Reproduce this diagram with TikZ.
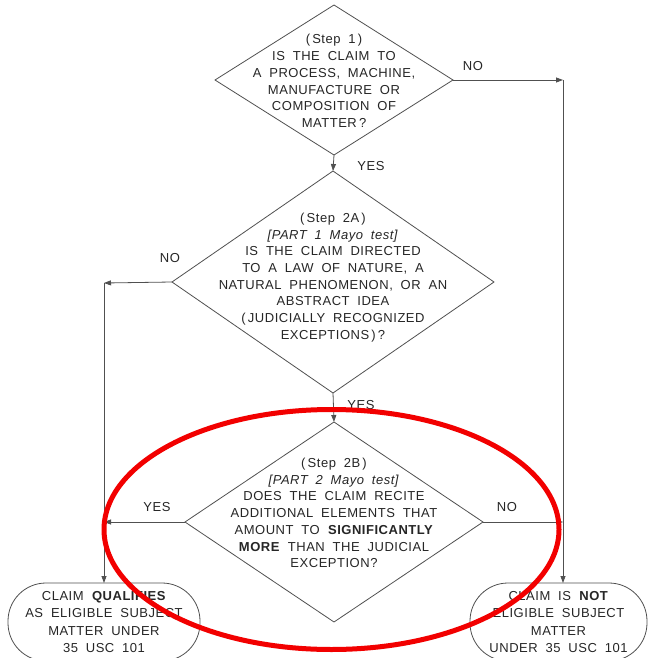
\documentclass[tikz,border=0pt]{standalone}
\usepackage{fontspec}
\setmainfont{Liberation Sans}[WordSpace=1.9, LetterSpace=4]
\usetikzlibrary{shapes.geometric,arrows.meta}
\definecolor{ln}{HTML}{505050}
\definecolor{tx}{HTML}{262626}
\definecolor{redring}{HTML}{F20000}
\begin{document}
\begin{tikzpicture}[x=1pt,y=-1pt,
  dia/.style={draw=ln, line width=0.8pt, diamond, inner sep=0pt, outer sep=0pt},
  qtext/.style={text=tx, align=center, font=\fontsize{13}{16.7}\selectfont, inner sep=0pt},
  term/.style={draw=ln, line width=0.8pt, rectangle, rounded corners=38pt, minimum height=78pt, outer sep=0pt,
     text=tx, align=center, font=\fontsize{13}{17.3}\selectfont, inner sep=0pt},
  lab/.style={text=tx, font=\fontsize{13}{14}\selectfont, inner sep=0pt},
  arr/.style={draw=ln, line width=0.8pt, -{Triangle[length=7pt,width=5pt]}}]
\useasboundingbox (0,0) rectangle (648,658);
\fill[white] (0,0) rectangle (648,658);

% diamonds
\node[dia, minimum width=238pt, minimum height=150pt] (d1) at (334,80) {};
\node[dia, minimum width=322pt, minimum height=222pt] (d2) at (333,282) {};
\node[dia, minimum width=298pt, minimum height=200pt] (d3) at (334,522) {};

\node[qtext] (q1) at (334,81) {(\,Step 1\,)\\IS THE CLAIM TO\\A PROCESS, MACHINE,\\MANUFACTURE OR\\COMPOSITION OF\\MATTER\,?};
\node[qtext] (q2) at (333,277.5) {(\,Step 2A\,)\\\textit{[PART 1 Mayo test]}\\IS THE CLAIM DIRECTED\\TO A LAW OF NATURE, A\\NATURAL PHENOMENON, OR AN\\ABSTRACT IDEA\\(\,JUDICIALLY RECOGNIZED\\EXCEPTIONS\,)\,?};
\node[qtext] (q3) at (334,513) {(\,Step 2B\,)\\\textit{[PART 2 Mayo test]}\\DOES THE CLAIM RECITE\\ADDITIONAL ELEMENTS THAT\\AMOUNT TO \textbf{SIGNIFICANTLY}\\\textbf{MORE} THAN THE JUDICIAL\\EXCEPTION?};

% terminals
\node[term, minimum width=192pt] (t1) at (104,622) {CLAIM \textbf{QUALIFIES}\\AS ELIGIBLE SUBJECT\\MATTER UNDER\\35 USC 101};
\node[term, minimum width=177pt] (t2) at (558.5,622) {CLAIM IS \textbf{NOT}\\ELIGIBLE SUBJECT\\MATTER\\UNDER 35 USC 101};

% corner coordinates
\coordinate (c1) at (563,80);
\coordinate (c2) at (104,283);

% connectors
\draw[arr] (d1.south) -- (d2.north);
\draw[arr] (d2.south) -- (d3.north);
\draw[arr] (d1.east) -- (c1);
\draw[arr] (c1) -- (c1 |- t2.north);
\draw[arr] (d2.west) -- (c2);
\draw[arr] (c2) -- (c2 |- t1.north);
\draw[arr] (d3.west) -- (c2 |- d3.west);
\draw[arr] (d3.east) -- (c1 |- d3.east);

% labels
\node[lab] (l1) at (473,66) {NO};
\node[lab] (l2) at (371,166) {YES};
\node[lab] (l3) at (170,258) {NO};
\node[lab] (l4) at (361,405) {YES};
\node[lab] (l5) at (157,507) {YES};
\node[lab] (l6) at (507,507) {NO};

% red highlight ring
\draw[redring, line width=5pt] (331.5,529.5) ellipse [x radius=227.5, y radius=120];
\end{tikzpicture}
\end{document}
